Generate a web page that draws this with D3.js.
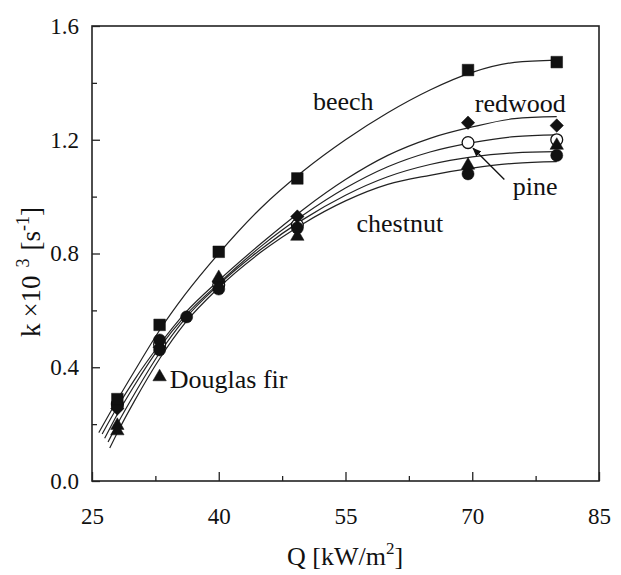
<!DOCTYPE html>
<html><head><meta charset="utf-8">
<script src="https://cdn.jsdelivr.net/npm/d3@7"></script>
<style>
body{margin:0;background:#fff;}
text{font-family:"Liberation Serif","Times New Roman",serif;fill:#111;}
</style></head>
<body><svg id="chart" width="621" height="575"></svg>
<script>
// x ticks, y ticks
const xTicks = [25, 40, 55, 70, 85];
const xMinor = [32.5, 47.5, 62.5, 77.5];
const yTicks = [0.0, 0.4, 0.8, 1.2, 1.6];
const yMinor = [0.2, 0.6, 1.0, 1.4];

// measured points [Q, k]
const beechPts = [[28,0.288],[33,0.549],[40,0.806],[49.3,1.064],[69.5,1.445],[80,1.473]];
const redwoodPts = [[28,0.255],[33,0.47],[40,0.70],[49.3,0.93],[69.5,1.26],[80,1.25]];
const pinePts = [[28,0.27],[33,0.48],[40,0.69],[49.3,0.90],[69.5,1.19],[80,1.20]];
const chestnutPts = [[28,0.264],[33,0.496],[33,0.461],[36.2,0.577],[40,0.675],[49.3,0.89],[69.5,1.08],[80,1.145]];
const douglasPts = [[28,0.195],[28,0.176],[33,0.366],[40,0.715],[49.3,0.86],[69.5,1.11],[80,1.18]];

// fitted curves [Q, k]
const beechFit = [[25.8,0.17],[28,0.285],[30,0.385],[33,0.53],[36,0.655],[40,0.80],[45,0.96],[50,1.09],[55,1.20],[60,1.295],[65,1.375],[70,1.437],[75,1.472],[80,1.48]];
const redwoodFit = [[26.2,0.165],[28,0.26],[30,0.355],[33,0.48],[36,0.59],[40,0.705],[45,0.835],[50,0.955],[55,1.06],[60,1.145],[65,1.205],[70,1.245],[75,1.274],[80,1.281]];
const pineFit = [[26.5,0.15],[28,0.235],[30,0.335],[33,0.47],[36,0.58],[40,0.695],[45,0.825],[50,0.935],[55,1.03],[60,1.105],[65,1.157],[70,1.19],[75,1.211],[80,1.217]];
const douglasFit = [[26.9,0.137],[28,0.2],[30,0.305],[33,0.45],[36,0.57],[40,0.69],[45,0.815],[50,0.92],[55,1.005],[60,1.07],[65,1.113],[70,1.14],[75,1.154],[80,1.158]];
const chestnutFit = [[27.1,0.116],[28,0.17],[30,0.28],[33,0.43],[36,0.555],[40,0.68],[45,0.805],[50,0.905],[55,0.985],[60,1.043],[65,1.075],[70,1.10],[75,1.117],[80,1.123]];

const labels = [
  {t:"beech", q:51.15, k:1.305},
  {t:"redwood", q:70.3, k:1.297},
  {t:"pine", q:74.8, k:1.006},
  {t:"chestnut", q:56.3, k:0.876},
  {t:"Douglas fir", q:34.2, k:0.327}
];

const svg = d3.select("#chart");
const x = d3.scaleLinear().domain([25,85]).range([92,599]);
const y = d3.scaleLinear().domain([0,1.6]).range([481,26]);

// frame
svg.append("rect").attr("x",x(25)).attr("y",y(1.6)).attr("width",x(85)-x(25)).attr("height",y(0)-y(1.6))
  .attr("fill","none").attr("stroke","#222").attr("stroke-width",1.6);

// axes with inward ticks
const xAxis = d3.axisBottom(x).tickValues(xTicks).tickSize(-9).tickPadding(27).tickFormat(d3.format("d"));
const gx = svg.append("g").attr("transform",`translate(0,${y(0)})`).call(xAxis);
const xAxisMinor = d3.axisBottom(x).tickValues(xMinor).tickSize(-5).tickFormat("");
const gxm = svg.append("g").attr("transform",`translate(0,${y(0)})`).call(xAxisMinor);
const yAxis = d3.axisLeft(y).tickValues(yTicks).tickSize(-8).tickPadding(13).tickFormat(d3.format(".1f"));
const gy = svg.append("g").attr("transform",`translate(${x(25)},0)`).call(yAxis);
const yAxisMinor = d3.axisLeft(y).tickValues(yMinor).tickSize(-5).tickFormat("");
const gym = svg.append("g").attr("transform",`translate(${x(25)},0)`).call(yAxisMinor);
[gx,gxm,gy,gym].forEach(g=>{
  g.select(".domain").remove();
  g.selectAll("line").attr("stroke","#222").attr("stroke-width",1.3);
  g.selectAll("text").attr("font-family","Liberation Serif").attr("font-size",23).attr("fill","#111");
});

// curves
const line = d3.line().x(d=>x(d[0])).y(d=>y(d[1])).curve(d3.curveMonotoneX);
[beechFit, redwoodFit, pineFit, douglasFit, chestnutFit].forEach(c=>{
  svg.append("path").attr("d",line(c)).attr("fill","none").attr("stroke","#222").attr("stroke-width",1.2);
});

// markers
const sym = (type,size)=>d3.symbol().type(type).size(size);
function pts(data,type,size,fill){
  svg.append("g").selectAll("path").data(data).join("path")
    .attr("transform",d=>`translate(${x(d[0])},${y(d[1])})`)
    .attr("d",sym(type,size)())
    .attr("fill",fill).attr("stroke","#111").attr("stroke-width",fill==="#fff"?1.3:0.5);
}
pts(pinePts, d3.symbolCircle, 110, "#fff");
pts(redwoodPts, d3.symbolDiamond2, 115, "#111");
pts(chestnutPts, d3.symbolCircle, 115, "#111");
pts(douglasPts, d3.symbolTriangle, 78, "#111");
pts(beechPts, d3.symbolSquare, 135, "#111");

// labels
svg.append("g").selectAll("text").data(labels).join("text")
  .attr("x",d=>x(d.q)).attr("y",d=>y(d.k)).attr("font-size",26).text(d=>d.t);

// pine arrow
const defs = svg.append("defs");
defs.append("marker").attr("id","ah").attr("viewBox","0 0 10 10").attr("refX",9).attr("refY",5)
  .attr("markerWidth",7).attr("markerHeight",7).attr("orient","auto")
  .append("path").attr("d","M0,1 L10,5 L0,9 Z").attr("fill","#111");
svg.append("line").attr("x1",x(73.8)).attr("y1",y(1.06)).attr("x2",x(70.1)).attr("y2",y(1.17))
  .attr("stroke","#111").attr("stroke-width",1.3).attr("marker-end","url(#ah)");

// axis titles
const xt = svg.append("text").attr("x",345).attr("y",565).attr("text-anchor","middle").attr("font-size",26);
xt.append("tspan").text("Q [kW/m");
xt.append("tspan").attr("dy",-11).attr("font-size",17).text("2");
xt.append("tspan").attr("dy",11).text("]");

const yt = svg.append("text").attr("transform","translate(40,272) rotate(-90)").attr("text-anchor","middle").attr("font-size",27);
yt.append("tspan").text("k");
yt.append("tspan").attr("dx",6).text("×10");
yt.append("tspan").attr("dx",8).attr("dy",-11).attr("font-size",18).text("3");
yt.append("tspan").attr("dx",8).attr("dy",11).text("[s");
yt.append("tspan").attr("dy",-11).attr("font-size",18).text("-1");
yt.append("tspan").attr("dy",11).text("]");
</script></body></html>
